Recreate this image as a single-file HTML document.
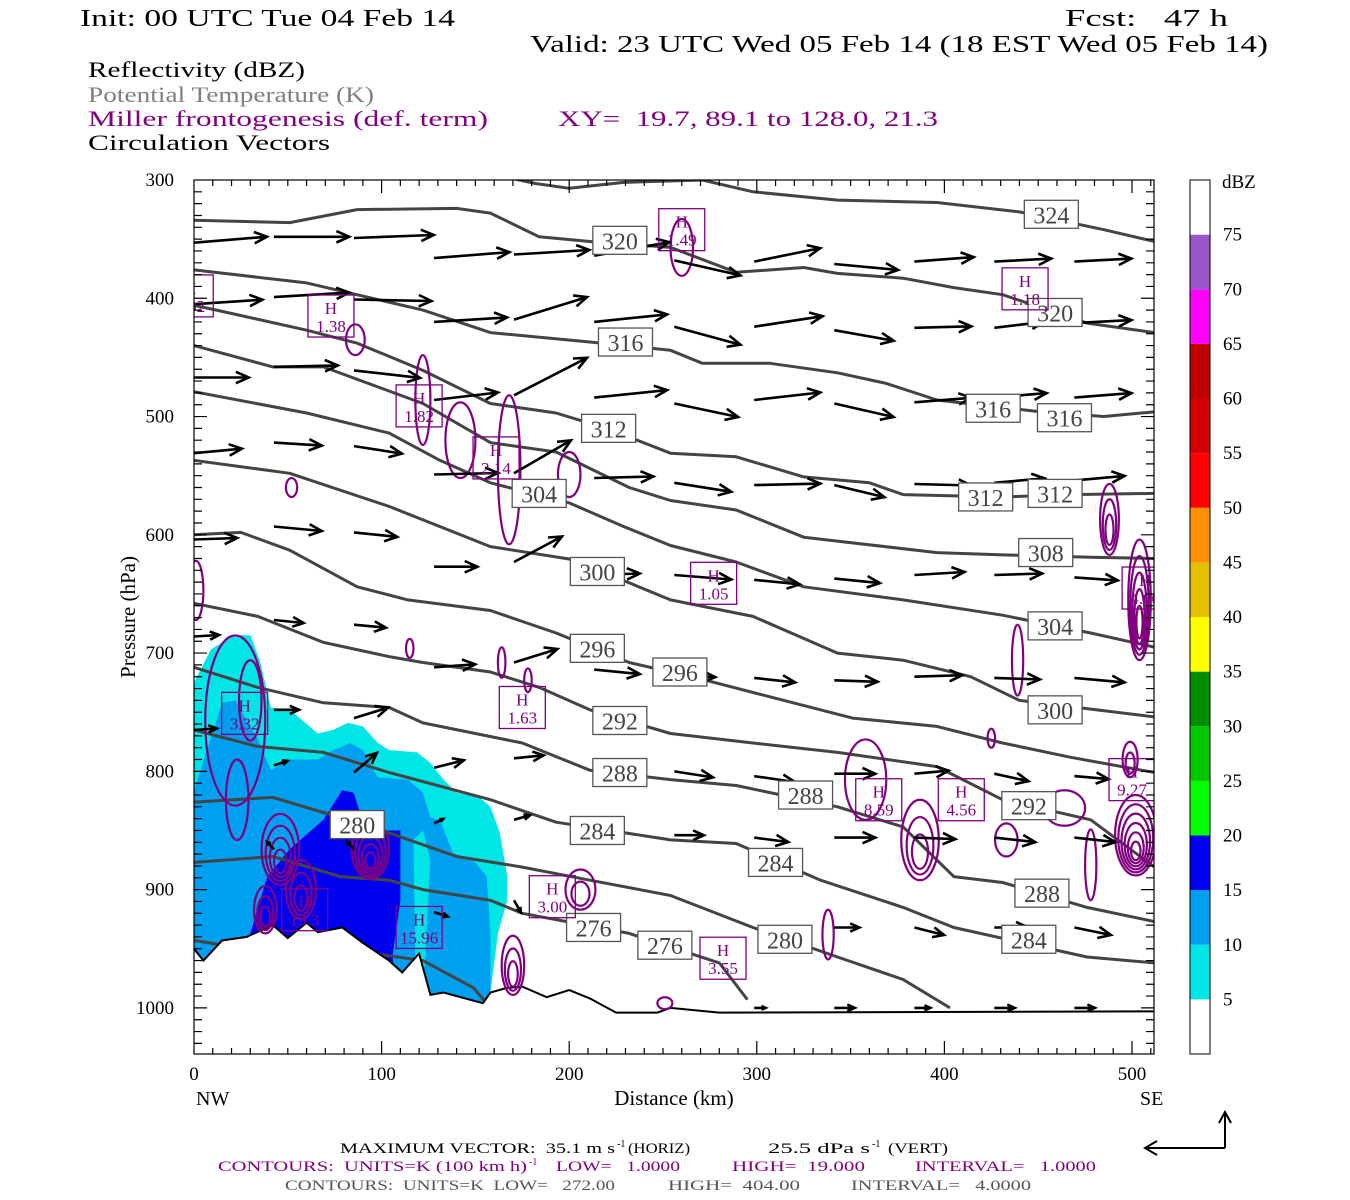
<!DOCTYPE html>
<html><head><meta charset="utf-8"><title>Cross-section</title>
<style>html,body{margin:0;padding:0;background:#fff;}svg{display:block;}</style>
</head><body>
<svg id="chart" width="1350" height="1200" viewBox="0 0 1350 1200" xmlns="http://www.w3.org/2000/svg">
<defs><clipPath id="plotclip"><rect x="194" y="180" width="960" height="874"/></clipPath></defs>
<rect width="1350" height="1200" fill="#fff"/>
<g font-family="Liberation Serif, serif">
<text x="80" y="26" font-size="24" textLength="375" lengthAdjust="spacingAndGlyphs">Init: 00 UTC Tue 04 Feb 14</text>
<text x="1065" y="26" font-size="24" textLength="163" lengthAdjust="spacingAndGlyphs">Fcst:&#160;&#160;&#160;47 h</text>
<text x="530" y="52" font-size="24" textLength="738" lengthAdjust="spacingAndGlyphs">Valid: 23 UTC Wed 05 Feb 14 (18 EST Wed 05 Feb 14)</text>
<text x="88" y="77" font-size="22" textLength="217" lengthAdjust="spacingAndGlyphs">Reflectivity (dBZ)</text>
<text x="88" y="102" font-size="22" fill="#808080" textLength="286" lengthAdjust="spacingAndGlyphs">Potential Temperature (K)</text>
<text x="88" y="126" font-size="22" fill="#800080" textLength="400" lengthAdjust="spacingAndGlyphs">Miller frontogenesis (def. term)</text>
<text x="558" y="126" font-size="22" fill="#800080" textLength="380" lengthAdjust="spacingAndGlyphs">XY=&#160;&#160;19.7, 89.1 to 128.0, 21.3</text>
<text x="88" y="150" font-size="22" textLength="242" lengthAdjust="spacingAndGlyphs">Circulation Vectors</text>
</g>
<g id="plot" clip-path="url(#plotclip)"></g>
<g id="overlay"></g>
<g font-family="Liberation Serif, serif" font-size="15">
<text x="340" y="1153" textLength="275" lengthAdjust="spacingAndGlyphs">MAXIMUM VECTOR:&#160;&#160;35.1 m s</text>
<text x="617" y="1147" font-size="10">-1</text>
<text x="628" y="1153" textLength="62" lengthAdjust="spacingAndGlyphs">(HORIZ)</text>
<text x="768" y="1153" textLength="102" lengthAdjust="spacingAndGlyphs">25.5 dPa s</text>
<text x="872" y="1147" font-size="10">-1</text>
<text x="888" y="1153" textLength="60" lengthAdjust="spacingAndGlyphs">(VERT)</text>
<text x="218" y="1171" fill="#800080" textLength="309" lengthAdjust="spacingAndGlyphs">CONTOURS:&#160;&#160;UNITS=K (100 km h)</text>
<text x="529" y="1165" fill="#800080" font-size="10">-1</text>
<text x="556" y="1171" fill="#800080" textLength="124" lengthAdjust="spacingAndGlyphs">LOW=&#160;&#160;&#160;1.0000</text>
<text x="732" y="1171" fill="#800080" textLength="133" lengthAdjust="spacingAndGlyphs">HIGH=&#160;&#160;19.000</text>
<text x="915" y="1171" fill="#800080" textLength="181" lengthAdjust="spacingAndGlyphs">INTERVAL=&#160;&#160;&#160;1.0000</text>
<text x="285" y="1190" fill="#555" textLength="330" lengthAdjust="spacingAndGlyphs">CONTOURS:&#160;&#160;UNITS=K&#160;&#160;LOW=&#160;&#160;&#160;272.00</text>
<text x="668" y="1190" fill="#555" textLength="132" lengthAdjust="spacingAndGlyphs">HIGH=&#160;&#160;404.00</text>
<text x="851" y="1190" fill="#555" textLength="180" lengthAdjust="spacingAndGlyphs">INTERVAL=&#160;&#160;&#160;4.0000</text>
</g>
<g stroke="#000" stroke-width="2" fill="none">
<path d="M1225 1148 L1145 1148 M1157 1141 L1145 1148 L1157 1155"/>
<path d="M1225 1148 L1225 1112 M1219 1123 L1225 1112 L1231 1123"/>
</g>
</svg>
<script>
// ---------- data ----------
const distTicks = [0,100,200,300,400,500];
const presTicks = [300,400,500,600,700,800,900,1000];
const dbzLevels = [5,10,15,20,25,30,35,40,45,50,55,60,65,70,75];
const dbzColors = ['#ffffff','#00e6e6','#00a0f0','#0000f0','#00ff00','#00c800','#008c00','#ffff00','#e6c000','#ff9000','#ff0000','#d60000','#c00000','#ff00ff','#9955c9','#ffffff'];

const surface = [[0,950],[5,960],[15,943],[28,940],[42,930],[50,941],[60,928],[66,936],[79,932],[90,945],[104,960],[111,970],[120,954],[126,989],[133,987],[154,996],[158,987],[167,983],[175,982],[188,991],[200,985],[211,992],[225,1004],[247,1004],[254,1000],[280,1004],[512,1003]];

const theta324 = [[0,280],[51,283],[104,286],[150,292],[182,303],[200,307],[229,302],[271,300],[298,310],[343,317],[396,319],[440,327],[485,342],[512,352]];
const theta320 = [[0,334],[51,336],[87,325],[140,324],[158,328],[184,348],[211,352],[254,357],[289,378],[325,374],[343,379],[378,383],[405,391],[431,397],[476,421],[512,429]];
const theta316 = [[0,376],[60,387],[122,410],[158,429],[211,437],[254,444],[271,455],[307,455],[343,463],[369,472],[396,486],[451,496],[485,500],[512,496]];
const theta312 = [[0,406],[12,410],[60,427],[87,438],[122,461],[158,489],[193,497],[220,510],[254,531],[289,534],[325,551],[360,556],[378,566],[431,568],[467,566],[512,565]];
const theta308 = [[0,440],[42,458],[69,458],[122,489],[158,522],[193,530],[232,560],[254,571],[289,579],[325,602],[396,615],[431,617],[478,619],[512,620]];
const theta304 = [[0,479],[60,497],[104,514],[131,537],[158,556],[200,573],[229,593],[254,609],[289,623],[325,644],[378,655],[431,668],[478,683],[512,695]];
const theta300 = [[0,537],[51,548],[104,576],[158,610],[202,621],[254,655],[298,669],[343,700],[378,706],[414,720],[440,740],[512,754]];
const theta296 = [[0,600],[25,598],[51,613],[87,644],[114,655],[158,664],[193,683],[232,708],[273,723],[307,737],[351,755],[396,762],[431,776],[467,788],[512,801]];
const theta292 = [[0,658],[34,669],[69,691],[104,703],[122,708],[158,716],[184,729],[211,748],[254,768],[298,776],[343,784],[396,796],[431,824],[478,841],[512,881]];
const theta288 = [[0,712],[34,729],[69,742],[104,746],[122,759],[175,776],[211,799],[254,807],[289,812],[343,830],[378,847],[405,889],[431,894],[476,915],[512,927]];
const theta284 = [[0,765],[34,779],[69,784],[104,801],[158,824],[193,843],[254,858],[289,861],[334,892],[378,915],[405,932],[476,957],[512,962]];
const theta280 = [[0,826],[42,822],[78,839],[104,852],[140,872],[175,881],[211,892],[254,905],[298,932],[343,957],[378,976],[403,1000]];
const theta276 = [[0,877],[42,872],[78,889],[104,892],[122,900],[158,909],[175,920],[232,937],[280,962],[295,993]];
const theta272 = [[0,943],[20,948],[60,952],[100,955],[122,960],[149,983],[158,1000]];
const thetaValues = [324,320,316,312,308,304,300,296,292,288,284,280,276,272];
const thetaSeries = [theta324,theta320,theta316,theta312,theta308,theta304,theta300,theta296,theta292,theta288,theta284,theta280,theta276,theta272];

const thetaLabelVal = [324,320,320,316,316,316,312,312,312,308,304,304,300,300,296,296,292,292,288,288,288,284,284,284,280,280,276,276];
const thetaLabelKm  = [457,227,459,230,426,464,221,422,459,454,184,459,215,459,215,259,227,445,227,326,452,215,310,445,87,315,213,251];
const thetaLabelP   = [329,351,412,437,493,501,510,568,565,615,565,677,631,748,696,716,757,829,801,820,903,850,877,942,845,942,932,947];

const dbzCyan = [[0,1030],[0,725],[9,697],[21,685],[30,685],[35,706],[41,746],[51,748],[66,768],[74,765],[82,759],[90,762],[98,776],[104,782],[119,784],[126,793],[133,807],[140,818],[152,822],[158,830],[163,852],[167,889],[167,909],[162,937],[158,987],[158,1030]];
const dbzLight = [[0,1030],[0,816],[7,782],[15,742],[22,740],[34,773],[41,799],[51,790],[66,790],[72,784],[83,776],[90,782],[98,805],[114,807],[122,818],[126,839],[131,841],[138,869],[149,875],[156,889],[158,937],[158,1030]];
const dbzBlue = [[30,1030],[30,937],[39,889],[51,866],[69,841],[79,816],[85,818],[92,852],[104,850],[110,850],[110,909],[106,954],[106,1030]];
const dbzCyanStrip = [[117,858],[122,850],[126,875],[123,965],[118,965]];

// circulation vectors: km, hPa, u (m/s), omega (dPa/s)
const vecKm = [];
const vecP = [];
const vecU = [];
const vecW = [];
const colKm = [0,42.6,85.3,128,170.6,213.3,256,298.6,341.3,384,426.6,469.3];
const rowA_P=[353,348,349,366,363,364,368,369,371,369,369,369], rowA_U=[32,33,35,33,33,33,29,29,28,26,25,25], rowA_W=[-4,0,-2,-4,-3,-9,10,-9,4,-3,-2,-2];
const rowB_P=[405,399,401,420,418,420,424,424,427,425,425,421], rowB_U=[30,33,34,32,32,32,29,30,26,25,22,25], rowB_W=[-3,-3,1,-3,-15,-5,12,-7,7,-1,-4,-2];
const rowC_P=[467,458,461,486,482,484,489,486,489,488,484,484], rowC_U=[24,28,29,28,32,32,28,29,26,25,23,25], rowC_W=[0,-1,5,-5,-25,-5,9,-5,9,-3,-3,-3];
const rowD_P=[531,522,525,549,548,552,556,558,558,557,556,554], rowD_U=[21,21,21,28,25,26,25,29,22,25,22,22], rowD_W=[-3,2,5,-1,-22,-1,6,-1,8,1,-3,-3];
const rowE_P=[604,593,598,627,623,634,634,638,637,634,634,636], rowE_U=[19,21,19,19,21,20,25,20,20,22,21,19], rowE_W=[-1,3,3,0,-17,-1,3,3,3,-2,-1,2];
const rowF_P=[686,672,676,712,708,714,719,721,723,720,721,721], rowF_U=[11,13,14,18,19,20,18,18,19,21,20,22], rowF_W=[-1,2,2,-2,-9,3,1,3,1,-1,1,3];
const rowG_P=[765,748,755,797,789,800,800,804,802,802,802,804], rowG_U=[10,11,15,13,13,16,17,18,18,15,15,15], rowG_W=[-1,0,-7,-5,-2,3,4,4,0,-2,5,2];
const rowH_P=[null,795,801,844,841,850,854,856,856,856,856,856], rowH_U=[0,6,10,4,7,12,13,15,18,18,18,18], rowH_W=[0,-3,-13,-3,-3,0,0,3,0,1,3,3];
const rowI_P=[null,866,866,919,909,null,null,null,932,932,932,932], rowI_U=[0,-3,-3,6,3,0,0,0,11,13,15,16], rowI_W=[0,-5,-5,3,8,0,0,0,0,5,0,5];
const rowJ_P=[null,null,null,null,null,null,null,1000,1000,1000,1000,1000], rowJ_U=[0,0,0,0,0,0,0,5,9,7,9,9], rowJ_W=[0,0,0,0,0,0,0,0,0,0,0,0];
[[rowA_P,rowA_U,rowA_W],[rowB_P,rowB_U,rowB_W],[rowC_P,rowC_U,rowC_W],[rowD_P,rowD_U,rowD_W],[rowE_P,rowE_U,rowE_W],[rowF_P,rowF_U,rowF_W],[rowG_P,rowG_U,rowG_W],[rowH_P,rowH_U,rowH_W],[rowI_P,rowI_U,rowI_W],[rowJ_P,rowJ_U,rowJ_W]].forEach(r=>{
  r[0].forEach((p,i)=>{ if(p!==null){ vecKm.push(colKm[i]); vecP.push(p); vecU.push(r[1][i]); vecW.push(r[2][i]); } });
});

// frontogenesis blobs: km, hPa, rx(km), ry(hPa), nested count
const fgKm = [260,86,122,142,168,200,52,1,115,164,178,22,30,23,46,57,94,38,170,206,358,387,439,425,478,464,433,488,504,502,499,338,251];
const fgP  = [357,435,486,520,545,549,560,647,696,708,723,757,740,824,866,900,866,917,964,900,807,858,706,772,879,831,858,587,655,854,790,938,996];
const fgRx = [6,5,4,8,6,6,3,4,2,2,2,16,6,6,10,8,10,6,6,8,11,10,3,2,3,11,6,5,6,11,4,3,4];
const fgRy = [24,13,38,32,63,19,8,25,8,13,10,72,34,34,30,25,25,20,25,17,34,34,30,8,30,15,14,30,51,34,15,21,5];
const fgN  = [1,1,1,1,1,1,1,1,1,1,1,1,1,1,4,3,5,3,3,2,1,3,1,1,1,1,1,3,5,6,2,1,1];

// frontogenesis maxima labels
const hiKm  = [-2,73,260,120,161,443,277,507,27,175,365,409,500,59,120,191,282];
const hiP   = [398,415,342,491,535,392,641,645,751,746,824,824,807,917,932,906,958];
const hiVal = ['2.02','1.38','1.49','1.82','2.14','1.18','1.05','4.00','3.32','1.63','8.59','4.56','9.27','19.3','15.96','3.00','3.55'];

// ---------- scales ----------
const X = km => 194 + km*1.876;
const Y = p => 180 + (p-300)*1.1827;
const NS = 'http://www.w3.org/2000/svg';
function mk(tag, attrs, parent){ const e=document.createElementNS(NS,tag); for(const k in attrs) e.setAttribute(k,attrs[k]); parent.appendChild(e); return e; }
const plot = document.getElementById('plot');
const overlay = document.getElementById('overlay');
const pts = arr => arr.map(d=>X(d[0]).toFixed(1)+','+Y(d[1]).toFixed(1)).join(' ');

// reflectivity fills
[[dbzCyan,dbzColors[1],'dbz-5-10-area'],[dbzLight,dbzColors[2],'dbz-10-15-area'],[dbzBlue,dbzColors[3],'dbz-15-20-area'],[dbzCyanStrip,dbzColors[1],'dbz-5-10-strip']].forEach(f=>{
  const e=mk('polygon',{points:pts(f[0]),fill:f[1],stroke:'none'},plot);
  
  
});

// theta lines
thetaSeries.forEach((s,i)=>{
  const e=mk('polyline',{points:pts(s),fill:'none',stroke:'#444','stroke-width':3,'stroke-linejoin':'round'},plot);
  
  
});

// terrain mask & surface
const terr = surface.concat([[512,1045],[0,1045]]);
const tm = mk('polygon',{points:pts(terr),fill:'#fff'},plot);


const sl = mk('polyline',{points:pts(surface),fill:'none',stroke:'#000','stroke-width':2},plot);



// frontogenesis contours
fgKm.forEach((k,i)=>{
  for(let j=0;j<fgN[i];j++){
    const f = 1 - j/(fgN[i]+0.5);
    const e=mk('ellipse',{cx:X(k),cy:Y(fgP[i])+(1-f)*fgRy[i]*0.6,rx:fgRx[i]*1.876*f,ry:fgRy[i]*1.1827*f,fill:'none',stroke:'#800080','stroke-width':2.2},plot);
    
    
  }
});

// vectors
vecKm.forEach((k,i)=>{
  const x0=X(k), y0=Y(vecP[i]);
  const dx=vecU[i]*2.28, dy=vecW[i]*1.5;
  const x1=x0+dx, y1=y0+dy;
  const L=Math.hypot(dx,dy)||1, ux=dx/L, uy=dy/L;
  const h=Math.min(14, L*0.4), a=0.42;
  const ca=Math.cos(a), sa=Math.sin(a);
  const bx1=x1-h*(ux*ca-uy*sa), by1=y1-h*(uy*ca+ux*sa);
  const bx2=x1-h*(ux*ca+uy*sa), by2=y1-h*(uy*ca-ux*sa);
  const e=mk('path',{d:`M${x0.toFixed(1)} ${y0.toFixed(1)}L${x1.toFixed(1)} ${y1.toFixed(1)}M${bx1.toFixed(1)} ${by1.toFixed(1)}L${x1.toFixed(1)} ${y1.toFixed(1)}L${bx2.toFixed(1)} ${by2.toFixed(1)}`,stroke:'#000','stroke-width':2.6,fill:'none'},plot);
  
  
});

// theta labels
thetaLabelVal.forEach((v,i)=>{
  const cx=X(thetaLabelKm[i]), cy=Y(thetaLabelP[i]);
  const g=mk('g',{},plot);
  
  
  mk('rect',{x:cx-27,y:cy-14,width:54,height:28,fill:'#fff',stroke:'#555','stroke-width':1.3},g);
  const t=mk('text',{x:cx,y:cy+9,'text-anchor':'middle','font-family':'Liberation Serif, serif','font-size':24,fill:'#444'},g);
  t.textContent=v;
});

// H labels
hiVal.forEach((v,i)=>{
  const cx=X(hiKm[i]), cy=Y(hiP[i]);
  const g=mk('g',{},plot);
  
  
  mk('rect',{x:cx-23,y:cy-21,width:46,height:42,fill:'none',stroke:'#800080','stroke-width':1.3},g);
  const t1=mk('text',{x:cx,y:cy-2,'text-anchor':'middle','font-family':'Liberation Serif, serif','font-size':17,fill:'#800080'},g);
  t1.textContent='H';
  const t2=mk('text',{x:cx,y:cy+16,'text-anchor':'middle','font-family':'Liberation Serif, serif','font-size':17,fill:'#800080'},g);
  t2.textContent=v;
});

// frame and ticks
const fr=mk('rect',{x:194,y:180,width:960,height:874,fill:'none',stroke:'#000','stroke-width':1.2},overlay);


let td='';
for(let p=310;p<1040;p+=10){ const y=Y(p); const L=(p%100===0)?13:8; td+=`M194 ${y}h${L}M1154 ${y}h${-L}`; }
for(let k=10;k<512;k+=10){ const x=X(k); const L=(k%100===0)?13:6; td+=`M${x} 180v${L}M${x} 1054v${-L}`; }
const tk=mk('path',{d:td,stroke:'#000','stroke-width':1.2,fill:'none'},overlay);


presTicks.forEach(p=>{
  const t=mk('text',{x:174,y:Y(p)+6,'text-anchor':'end','font-family':'Liberation Serif, serif','font-size':19},overlay);
  
  
  t.textContent=p;
});
distTicks.forEach(k=>{
  const t=mk('text',{x:X(k),y:1080,'text-anchor':'middle','font-family':'Liberation Serif, serif','font-size':19},overlay);
  
  
  t.textContent=k;
});
const xt=mk('text',{x:674,y:1105,'text-anchor':'middle','font-family':'Liberation Serif, serif','font-size':21},overlay);


xt.textContent='Distance (km)';
const nw=mk('text',{x:196,y:1105,'font-family':'Liberation Serif, serif','font-size':20},overlay);


nw.textContent='NW';
const se=mk('text',{x:1140,y:1105,'font-family':'Liberation Serif, serif','font-size':20},overlay);


se.textContent='SE';
const yt=mk('text',{x:0,y:0,'text-anchor':'middle','font-family':'Liberation Serif, serif','font-size':21,transform:'translate(135,617) rotate(-90)'},overlay);


yt.textContent='Pressure (hPa)';

// colorbar
const cbTop=180, cbBot=1054, seg=(cbBot-cbTop)/16;
dbzColors.forEach((c,i)=>{
  const e=mk('rect',{x:1190,y:cbBot-(i+1)*seg,width:20,height:seg,fill:c,stroke:'none'},overlay);
  
  
});
const cbf=mk('rect',{x:1190,y:cbTop,width:20,height:cbBot-cbTop,fill:'none',stroke:'#000','stroke-width':1},overlay);


dbzLevels.forEach((v,i)=>{
  const t=mk('text',{x:1223,y:cbBot-(i+1)*seg+6,'font-family':'Liberation Serif, serif','font-size':19},overlay);
  
  
  t.textContent=v;
});
const cbt=mk('text',{x:1222,y:188,'font-family':'Liberation Serif, serif','font-size':19},overlay);


cbt.textContent='dBZ';
</script>
</body></html>
